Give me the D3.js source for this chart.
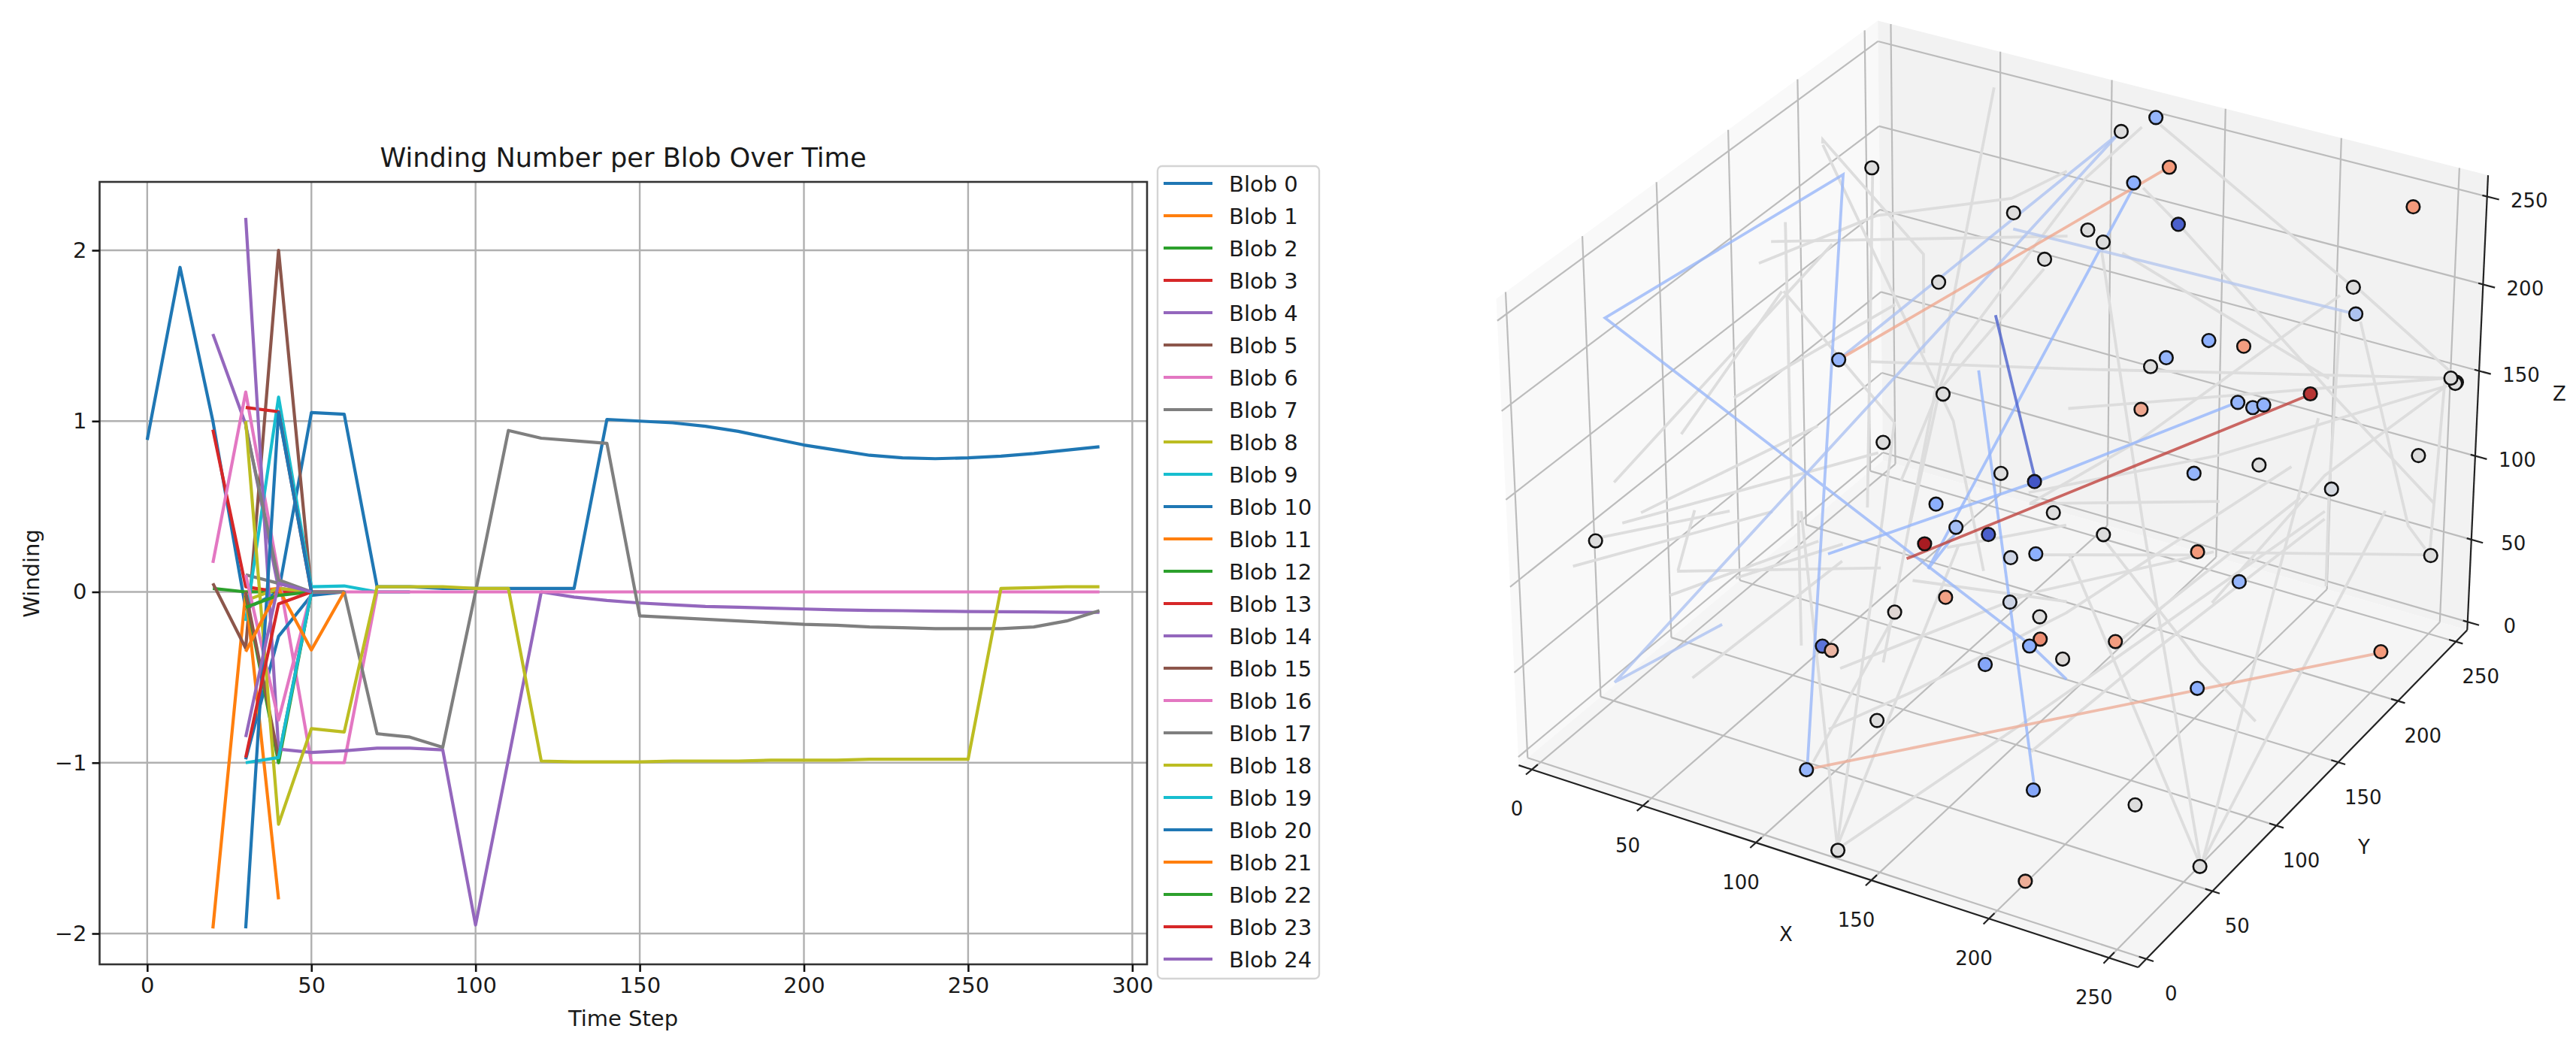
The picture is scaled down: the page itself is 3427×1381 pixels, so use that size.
<!DOCTYPE html>
<html>
<head>
<meta charset="utf-8">
<script src="https://cdn.jsdelivr.net/npm/d3@7"></script>
<style>
  body { margin: 0; background: #fff; }
  text { font-family: "DejaVu Sans", sans-serif; fill: #1a1a1a; }
</style>
</head>
<body>
<svg id="chart" width="3427" height="1381"></svg>
<script>
// left panel: winding per blob, sampled every 10 steps from blobStart
var blobStart = [0,20,20,20,20,20,20,30,30,30,30,30,30,30,30,30,30,30,30,30,30,30,30,30,30];
var blobValues = [
  [.89,1.9,1,-.1,0,1.05,1.04,.03,.03,.02,.02,.02,.02,.02,1.01,1,.99,.97,.94,.9,.86,.83,.8,.785,.78,.785,.795,.81,.83,.85],
  [-1.97,0,.02,0],
  [.02,0,0,0],
  [.95,.03,0,0],
  [1.51,.98,.02,0],
  [.05,-.33,2,0,0],
  [.17,1.17,.1,-1,-1,0,0],
  [.1,.05,0,0],
  [-.05,.02,0],
  [-.17,1.14,.03,.035,0,0],
  [-.98,-.26,-.02,0],
  [0,-1.8],
  [-.02,-1,0],
  [1.08,1.055,0,0],
  [2.19,-.92,-.94,-.93,-.915,-.915,-.925,-1.95,-.98,0,-.03,-.05,-.065,-.075,-.085,-.09,-.095,-.1,-.105,-.108,-.11,-.113,-.115,-.116,-.117,-.119,-.12],
  [0,-.97,0],
  [.1,-.75,0,0,0,0,0,0,0,0,0,0,0,0,0,0,0,0,0,0,0,0,0,0,0,0,0],
  [.97,.07,0,0,-.83,-.85,-.91,0,.945,.9,.885,.87,-.14,-.15,-.16,-.17,-.18,-.19,-.195,-.205,-.21,-.215,-.215,-.215,-.205,-.17,-.11],
  [1,-1.36,-.8,-.82,.03,.03,.03,.02,.02,-.99,-.995,-.995,-.995,-.99,-.99,-.99,-.985,-.985,-.985,-.98,-.98,-.98,-.98,.02,.025,.03,.03],
  [-1,-.97,0],
  [-1.97,1.05,0],
  [-.35,.02,-.34,0],
  [-.09,-.02,0],
  [-.97,-.07,0],
  [-.85,.05,0]
];
var stepTicks = [0,50,100,150,200,250,300];
var windingTicks = [-2,-1,0,1,2];

// right panel: blob centres in image coordinates, coloured by winding
var dotX = [15,96,104,99,67,72,107,123,105,120,134,150,16,83,152,136,116,160,151,149,110,72,103,161,192,186,140,133,105,184,132,206,206,200,194,251,191,250,227,226,255,124,111,141,125,241,155,110,138,229,221,194,191,195,170,255,255,254,239,212,196,228,170,244,221,184,240];
var dotY = [220,191,201,130,110,178,76,135,192,92,156,56,19,145,76,120,174,78,116,50,78,87,44,99,37,72,94,27,22,54,0,10,66,150,196,247,103,208,101,56,53,252,248,232,233,240,214,224,186,216,235,167,201,132,166,255,254,252,163,157,200,147,159,247,158,176,181];
var dotZ = [206,225,195,224,181,119,171,120,70,130,87,153,118,56,136,86,43,99,60,117,73,31,72,63,116,81,43,56,19,17,0,7,164,94,42,45,71,14,60,25,4,253,243,242,227,249,225,200,226,214,184,202,176,215,179,144,144,148,191,180,143,191,159,102,147,116,125];
var dotWinding = [0,0,0,0,-.9,0,0,0,-1.9,-1,0,-.7,0,2,-1.8,-.2,-1,-.2,0,.9,.1,-1.6,.6,1.1,-1,.05,-1.1,0,-.9,-1.1,0,.7,0,1,-.9,0,.95,1,-1,0,0,-.9,0,1,-1,1,-1.8,0,0,0,-.6,-1,.95,-.9,0,0,0,0,1.8,-.9,-.8,-.95,.8,0,0,-.9,-.1];

// trails between frames: grey ones (winding 0) first, then the coloured ones
var trailX = [
  [10,17,63,55],[17,95,103],[29,105],[33,57],[53,116,109],[40,85],[23,26],[34,17],[45,61],[86,47],
  [38,155,254],[100,28],[52,29],[100,72,45,22],[130,98,74],[127,229],[119,112,75,120],[133,145,235,250],[154,230],[125,255],
  [227,146,156],[229,248,249],[225,255],[253,211,224],[252,224,138],[218,234,223],[252,250],[113,221],[222,203,255],[121,218,255],
  [137,255],[238,255],[230,170,133],[200,130,108],[136,226],[250,189],[199,215,231],[131,67,115],[131,93],[131,49],
  [115,115],[100,143,171,202],[39,28],[48,98],[6,70],[14,70],[35,49],[64,75],[34,94],[47,100],
  [115,152],[139,151],[172,227],[220,229,187],
  [99,26,11,187,186],[31,114],[39,27,113],[124,135,112],[71,199],[88,176],[74,110,220],[86,243],[67,136],[127,221],[100,249]
];
var trailY = [
  [192,181,179,192],[181,147,156],[124,217],[128,91],[250,79,71],[180,100],[177,18],[123,77],[107,159],[120,68],
  [179,129,252],[42,32],[162,18],[225,231,174,126],[155,132,149],[250,216],[250,219,181,67],[226,233,190,250],[172,196],[183,248],
  [209,200,100],[223,232,246],[230,250],[251,233,117],[251,118,130],[228,191,213],[251,248],[174,127],[204,224,54],[215,74,54],
  [163,54],[232,53],[196,75,1],[163,145,42],[134,100],[247,201],[80,125,141],[1,141,71],[2,154],[1,110],
  [11,70],[46,34,101,222],[39,68],[25,88],[18,57],[25,28],[39,122],[40,98],[54,67],[111,28],
  [83,135],[68,136],[139,181],[216,60,47],
  [32,181,38,47,75],[167,242],[68,12,244],[236,61,120],[207,29],[191,69],[89,184,142],[208,189],[110,241],[59,198],[30,211]
];
var trailZ = [
  [235,246,197,128],[243,132,40],[226,199],[236,93],[248,124,48],[238,109],[190,156],[200,141],[214,111],[213,179],
  [125,196,148],[200,130],[87,134],[230,201,216,210],[227,161,61],[251,214],[247,234,142,160],[231,210,171,74],[234,175],[127,151],
  [213,104,139],[190,72,49],[202,153],[144,87,97],[143,180,118],[190,115,39],[147,45],[72,147],[144,69,3],[199,168,3],
  [59,3],[77,4],[98,37,2],[85,45,65],[78,137],[45,54],[148,53,13],[1,72,189],[2,53],[3,86],
  [36,79],[23,71,81,96],[96,107],[109,87],[100,130],[115,150],[80,60],[101,85],[20,104],[85,85],
  [90,56],[129,100],[37,115],[76,110,46],
  [10,229,230,107,67],[131,247],[44,45,246],[224,120,91],[114,42],[163,180],[85,77,193],[202,221],[181,235],[124,161],[11,11]
];
var trailWinding = [
  0,0,0,0,0,0,0,0,0,0,0,0,0,0,0,0,0,0,0,0,0,0,0,0,0,0,0,0,0,0,
  0,0,0,0,0,0,0,0,0,0,0,0,0,0,0,0,0,0,0,0,0,0,0,0,
  -.85,-.6,-.6,-.9,-.9,-1.8,-.9,-.5,.8,1.7,.7
];
var cubeTicks = [0,50,100,150,200,250];
var xLim = [-6,262], yLim = [-6,260], zLim = [-5,262];

var svg = d3.select("#chart");
var tab10 = d3.schemeCategory10;

// ---------------- winding panel ----------------
var lineX = d3.scaleLinear().domain([-14.5,304.5]).range([132.5,1526]);
var lineY = d3.scaleLinear().domain([-2,2]).range([1242,333]);
var plotTop = 242, plotBottom = 1283;

var bottomAxis = d3.axisBottom(lineX).tickValues(stepTicks).tickSize(10).tickPadding(7);
var leftAxis = d3.axisLeft(lineY).tickValues(windingTicks).tickSize(10).tickPadding(7).tickFormat(d => d < 0 ? "\u2212" + (-d) : d);

// gridlines first, they sit under the series
svg.append("g").selectAll("line").data(stepTicks).enter().append("line")
  .attr("x1", d => lineX(d)).attr("x2", d => lineX(d))
  .attr("y1", plotTop).attr("y2", plotBottom)
  .attr("stroke", "#b0b0b0").attr("stroke-width", 2.4);
svg.append("g").selectAll("line").data(windingTicks).enter().append("line")
  .attr("x1", lineX.range()[0]).attr("x2", lineX.range()[1])
  .attr("y1", d => lineY(d)).attr("y2", d => lineY(d))
  .attr("stroke", "#b0b0b0").attr("stroke-width", 2.4);

var blobLine = d3.line().x(d => lineX(d[0])).y(d => lineY(d[1]));
blobValues.forEach(function(vals, i) {
  var pts = vals.map((v, k) => [blobStart[i] + k * 10, v]);
  svg.append("path")
    .attr("d", blobLine(pts))
    .attr("fill", "none")
    .attr("stroke", tab10[i % 10])
    .attr("stroke-width", 4.2)
    .attr("stroke-linejoin", "round");
});

// spines
svg.append("rect")
  .attr("x", lineX.range()[0]).attr("y", plotTop)
  .attr("width", lineX.range()[1] - lineX.range()[0]).attr("height", plotBottom - plotTop)
  .attr("fill", "none").attr("stroke", "#333").attr("stroke-width", 2.6);

var gx = svg.append("g").attr("transform", `translate(0,${plotBottom})`).call(bottomAxis);
var gy = svg.append("g").attr("transform", `translate(${lineX.range()[0]},0)`).call(leftAxis);
[gx, gy].forEach(function(g) {
  g.select(".domain").remove();
  g.selectAll("line").attr("stroke", "#111").attr("stroke-width", 2.6);
  g.selectAll("text").style("font-size", "29px").attr("fill", "#1a1a1a").style("font-family", "DejaVu Sans");
});

svg.append("text").attr("x", 829).attr("y", 222).attr("text-anchor", "middle").style("font-size", "35.2px")
  .text("Winding Number per Blob Over Time");
svg.append("text").attr("x", 829).attr("y", 1365).attr("text-anchor", "middle").style("font-size", "29px")
  .text("Time Step");
svg.append("text").attr("transform", "translate(52,763) rotate(-90)").attr("text-anchor", "middle").style("font-size", "29px")
  .text("Winding");

// legend
var legend = svg.append("g");
legend.append("rect").attr("x", 1540).attr("y", 221).attr("width", 215).attr("height", 1081).attr("rx", 6)
  .attr("fill", "#fff").attr("stroke", "#d4d4d4").attr("stroke-width", 2.4);
blobValues.forEach(function(vals, i) {
  var rowY = 244 + i * 43;
  legend.append("line").attr("x1", 1548).attr("x2", 1613).attr("y1", rowY).attr("y2", rowY)
    .attr("stroke", tab10[i % 10]).attr("stroke-width", 4.2);
  legend.append("text").attr("x", 1635).attr("y", rowY + 10.5).style("font-size", "29px").text("Blob " + i);
});

// ---------------- 3d panel ----------------
// same camera as a default mplot3d axes: elev 30, azim -60, box 4:4:3, dist 10
var boxW = 1.1905, boxH = 0.8929, camDist = 10;
var boxX = d3.scaleLinear().domain(xLim).range([-boxW / 2, boxW / 2]);
var boxY = d3.scaleLinear().domain(yLim).range([-boxW / 2, boxW / 2]);
var boxZ = d3.scaleLinear().domain(zLim).range([-boxH / 2, boxH / 2]);
var camU = [0.8660254, 0.5, 0], camV = [-0.25, 0.4330127, 0.8660254], camW = [0.4330127, -0.75, 0.5];
var screenX = d3.scaleLinear().domain([0, 0.1]).range([2663, 3456]);
var screenY = d3.scaleLinear().domain([0, 0.1]).range([627, -165]);

function dot3(a, b) { return a[0] * b[0] + a[1] * b[1] + a[2] * b[2]; }
function project(x, y, z) {
  var d = [boxX(x), boxY(y), boxZ(z)];
  var k = camDist - dot3(camW, d);
  return [screenX(dot3(camU, d) / k), screenY(dot3(camV, d) / k)];
}

var coolwarm = d3.scaleLinear().domain([-2,-1,0,1,2])
  .range(["#3b4cc0","#8db0fe","#dddddd","#f49a7b","#a81c22"]);

var x0 = xLim[0], x1 = xLim[1], y0 = yLim[0], y1 = yLim[1], z0 = zLim[0], z1 = zLim[1];
var panes = [
  { fill: "#f9f9f9", corners: [[x0,y0,z0],[x0,y1,z0],[x0,y1,z1],[x0,y0,z1]] },
  { fill: "#f2f2f2", corners: [[x0,y1,z0],[x1,y1,z0],[x1,y1,z1],[x0,y1,z1]] },
  { fill: "#f5f5f5", corners: [[x0,y0,z0],[x1,y0,z0],[x1,y1,z0],[x0,y1,z0]] }
];
var cube = svg.append("g");
panes.forEach(function(p) {
  cube.append("path")
    .attr("d", d3.line()(p.corners.map(c => project(c[0], c[1], c[2]))) + "Z")
    .attr("fill", p.fill);
});

function edge(a, b, color, width) {
  var s = project(a[0], a[1], a[2]), e = project(b[0], b[1], b[2]);
  cube.append("line")
    .attr("x1", s[0]).attr("y1", s[1]).attr("x2", e[0]).attr("y2", e[1])
    .attr("stroke", color).attr("stroke-width", width);
}
function label(p, dx, dy, txt) {
  cube.append("text").attr("x", p[0] + dx).attr("y", p[1] + dy + 9.5)
    .attr("text-anchor", "middle").style("font-size", "26px").text(txt);
}

var gridCol = "#bcbcbc", axisCol = "#222";
cubeTicks.forEach(function(t) {
  edge([t,y0,z0], [t,y1,z0], gridCol, 2.2);
  edge([t,y1,z0], [t,y1,z1], gridCol, 2.2);
  edge([x0,t,z0], [x1,t,z0], gridCol, 2.2);
  edge([x0,t,z0], [x0,t,z1], gridCol, 2.2);
  edge([x0,y0,t], [x0,y1,t], gridCol, 2.2);
  edge([x0,y1,t], [x1,y1,t], gridCol, 2.2);
});
edge([x0,y0,z0], [x1,y0,z0], axisCol, 2.2);
edge([x1,y0,z0], [x1,y1,z0], axisCol, 2.2);
edge([x1,y1,z0], [x1,y1,z1], axisCol, 2.2);
cubeTicks.forEach(function(t) {
  edge([t,y0 - 4,z0], [t,y0 + 4,z0], axisCol, 2.2);
  edge([x1 - 3,t,z0], [x1 + 3,t,z0], axisCol, 2.2);
  edge([x1 - 2,y1,t], [x1 + 5,y1,t], axisCol, 2.2);
  label(project(t, y0, z0), -20, 52, t);
  label(project(x1, t, z0), 33, 46, t);
  label(project(x1, y1, t), 56, 5, t);
});
cube.append("text").attr("x", 2376).attr("y", 1252).attr("text-anchor", "middle").style("font-size", "26px").text("X");
cube.append("text").attr("x", 3145).attr("y", 1136).attr("text-anchor", "middle").style("font-size", "26px").text("Y");
cube.append("text").attr("x", 3405).attr("y", 533).attr("text-anchor", "middle").style("font-size", "26px").text("Z");

trailX.forEach(function(xs, i) {
  var pts = xs.map((x, k) => project(x, trailY[i][k], trailZ[i][k]));
  var w = trailWinding[i];
  svg.append("path")
    .attr("d", d3.line()(pts))
    .attr("fill", "none")
    .attr("stroke", coolwarm(w))
    .attr("stroke-opacity", w === 0 ? 1 : 0.8)
    .attr("stroke-width", 3.8);
});

var dotOrder = d3.range(dotX.length);
svg.append("g").selectAll("circle").data(dotOrder).enter().append("circle")
  .attr("cx", i => project(dotX[i], dotY[i], dotZ[i])[0])
  .attr("cy", i => project(dotX[i], dotY[i], dotZ[i])[1])
  .attr("r", 8.8)
  .attr("fill", i => coolwarm(dotWinding[i]))
  .attr("stroke", "#111")
  .attr("stroke-width", 2.6);
</script>
</body>
</html>
